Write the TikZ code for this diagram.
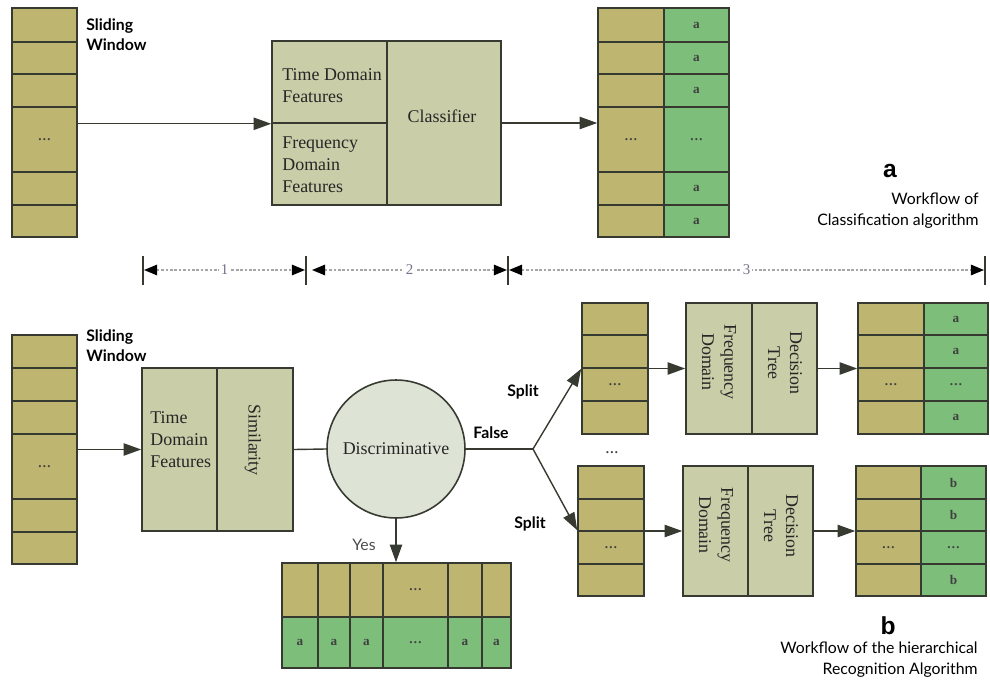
\documentclass[tikz,border=0pt]{standalone}
\usepackage{fontspec}
\setmainfont{Liberation Serif}
\newfontfamily\labfont{Lato}
\newfontfamily\bigfont{Liberation Sans}
\usetikzlibrary{arrows.meta,fit,calc}

\definecolor{khaki}{RGB}{190,182,112}
\definecolor{leaf}{RGB}{124,190,122}
\definecolor{sage}{RGB}{201,206,168}
\definecolor{mist}{RGB}{221,228,214}
\definecolor{edge}{RGB}{55,58,48}

\tikzset{
  cellbox/.style={draw=edge, line width=0.9pt, inner sep=0pt},
  kcell/.style={cellbox, fill=khaki},
  gcell/.style={cellbox, fill=leaf},
  procbox/.style={cellbox, fill=sage},
  body/.style={font=\fontsize{10.2}{12.6}\selectfont, text=black!85, align=left, inner sep=0pt},
  celltxt/.style={font=\bfseries\fontsize{7.5}{9}\selectfont, text=black!75, inner sep=0pt},
  tag/.style={font=\labfont\bfseries\fontsize{9}{11.4}\selectfont, align=left, inner sep=0pt},
  caption/.style={font=\labfont\fontsize{9}{12}\selectfont, align=right, inner sep=0pt},
  panel/.style={font=\bigfont\bfseries\fontsize{14}{16}\selectfont, inner sep=0pt},
  flow/.style={draw=edge, line width=0.8pt, -{Triangle[length=10pt,width=7pt]}},
  plain/.style={draw=edge, line width=0.8pt},
  tickline/.style={draw=edge, line width=0.8pt},
  dimline/.style={draw=gray!70, line width=0.8pt, dash pattern=on 1.5pt off 1pt,
    {Triangle[length=7.5pt,width=6pt,color=black]}-{Triangle[length=7.5pt,width=6pt,color=black]}},
  dimlabel/.style={font=\fontsize{8.5}{10}\selectfont, text=gray!90!blue, fill=white, inner sep=1pt},
}

% cell node spanning the rectangle (x1,y1)-(x2,y2), in pixel-like units
\newcommand\cellat[6]{\node[#6, fit={(#2,#3) (#4,#5)}] (#1) {};}
\newcommand\ellip{\ldots}

\begin{document}
\begin{tikzpicture}[x=0.02cm, y=-0.02cm]
\useasboundingbox (0,0) rectangle (990,689);

% ---------------- panel a ----------------
\foreach \n/\a/\b in {1/8/42, 2/42/74, 3/74/107, 4/107/172, 5/172/205, 6/205/237} {
  \cellat{tw\n}{12}{\a}{77}{\b}{kcell}
  \cellat{tr\n}{598}{\a}{664}{\b}{kcell}
  \cellat{trg\n}{664}{\a}{729}{\b}{gcell}
}
\node[celltxt] at (tw4) {\ellip};
\node[celltxt] at (tr4) {\ellip};
\node[celltxt] at (trg4) {\ellip};
\foreach \n in {1,2,3,5,6} { \node[celltxt] at (trg\n) {a}; }

\node[tag, anchor=west] (swa) at (86,35) {Sliding\\Window};

\cellat{fAt}{272}{41}{387}{123}{procbox}
\cellat{fAf}{272}{123}{387}{205}{procbox}
\cellat{fAc}{387}{41}{501}{205}{procbox}
\node[body, anchor=west] (fAtt) at (282,86) {Time Domain\\Features};
\node[body, anchor=west] (fAft) at (282,165) {Frequency\\Domain\\Features};
\node[body] (fAct) at (442,116) {Classifier};

\draw[flow] (fAt.south west -| tw4.east) -- (fAt.south west);
\draw[flow] (fAc.east) -- (fAc.east -| tr4.west);

\node[panel] (pa) at (890,171) {a};
\node[caption, anchor=east] (capa) at (979,211) {Workflow of\\Classification algorithm};

% ---------------- stage ruler ----------------
\coordinate (d0) at (143,270);
\coordinate (d1) at (306,270);
\coordinate (d2) at (508,270);
\coordinate (d3) at (985,270);
\foreach \d in {d0,d1,d2,d3} { \draw[tickline] (\d) ++(0,-14) -- ++(0,29); }
\draw[dimline] ($(d0)+(1,0)$) -- node[dimlabel] {1} ($(d1)+(-1,0)$);
\draw[dimline] ($(d1)+(6,0)$) -- node[dimlabel] {2} ($(d2)+(-1,0)$);
\draw[dimline] ($(d2)+(1,0)$) -- node[dimlabel] {3} ($(d3)+(-1,0)$);

% ---------------- panel b ----------------
\foreach \n/\a/\b in {1/335/368, 2/368/401, 3/401/434, 4/434/499, 5/499/532, 6/532/564} {
  \cellat{bw\n}{12}{\a}{77}{\b}{kcell}
}
\node[celltxt] at (bw4) {\ellip};
\node[tag, anchor=west] (swb) at (86,346) {Sliding\\Window};

\cellat{fBt}{142}{368}{217}{531}{procbox}
\cellat{fBs}{217}{368}{293}{531}{procbox}
\node[body, anchor=west] (fBtt) at (150,440) {Time\\Domain\\Features};
\node[body, rotate=-90] (fBst) at (253,440) {Similarity};

\draw[flow] (fBt.west -| bw4.east) -- (fBt.west);

\node[circle, draw=edge, line width=0.9pt, fill=mist, minimum size=2.76cm, inner sep=0pt,
      font=\fontsize{10.2}{12}\selectfont, text=black!85] (disc) at (396,449) {Discriminative};
\draw[plain] (fBs.east) -- (disc.west);
\coordinate (fork) at (533,449);
\draw[plain] (disc.east) -- (fork);
\node[tag] (false) at (491,433) {False};

% upper branch
\foreach \n/\a/\b in {1/303/335, 2/335/368, 3/368/401, 4/401/434} {
  \cellat{us\n}{582}{\a}{648}{\b}{kcell}
  \cellat{ur\n}{858}{\a}{924}{\b}{kcell}
  \cellat{urg\n}{924}{\a}{988}{\b}{gcell}
}
\node[celltxt] at (us3) {\ellip};
\node[celltxt] at (ur3) {\ellip};
\node[celltxt] at (urg3) {\ellip};
\foreach \n in {1,2,4} { \node[celltxt] at (urg\n) {a}; }

\cellat{ufa}{686}{303}{752}{434}{procbox}
\cellat{ufb}{752}{303}{817}{434}{procbox}
\node[body, rotate=-90, align=center] (ufat) at (719,362) {Frequency\\Domain};
\node[body, rotate=-90, align=center] (ufbt) at (785,363) {Decision\\Tree};

\draw[flow] (fork) -- (us2.south west);
\node[tag] (split1) at (523,392) {Split};
\draw[flow] (ufa.west -| us2.east) -- (ufa.west);
\draw[flow] (ufb.east) -- (ufb.east -| ur1.west);

\node[celltxt] (gap) at (612,453) {\ellip};

% lower branch
\foreach \n/\a/\b in {1/466/499, 2/499/531, 3/531/564, 4/564/596} {
  \cellat{ls\n}{578}{\a}{644}{\b}{kcell}
  \cellat{lr\n}{856}{\a}{921}{\b}{kcell}
  \cellat{lrg\n}{921}{\a}{986}{\b}{gcell}
}
\node[celltxt] at (ls3) {\ellip};
\node[celltxt] at (lr3) {\ellip};
\node[celltxt] at (lrg3) {\ellip};
\foreach \n in {1,2,4} { \node[celltxt] at (lrg\n) {b}; }

\cellat{lfa}{683}{466}{748}{596}{procbox}
\cellat{lfb}{748}{466}{813}{596}{procbox}
\node[body, rotate=-90, align=center] (lfat) at (716,525) {Frequency\\Domain};
\node[body, rotate=-90, align=center] (lfbt) at (781,526) {Decision\\Tree};

\draw[flow] (fork) -- (ls3.north west);
\node[tag] (split2) at (530,524) {Split};
\draw[flow] (lfa.west -| ls3.east) -- (lfa.west);
\draw[flow] (lfb.east) -- (lfb.east -| lr1.west);

% "Yes" result strip
\foreach \n/\a/\b in {1/282/318, 2/318/350, 3/350/383, 4/383/448, 5/448/482, 6/482/511} {
  \cellat{yt\n}{\a}{563}{\b}{617}{kcell}
  \cellat{yb\n}{\a}{617}{\b}{668}{gcell}
}
\node[celltxt] at (yt4) {\ellip};
\node[celltxt] at (yb4) {\ellip};
\foreach \n in {1,2,3,5,6} { \node[celltxt] at (yb\n) {a}; }

\draw[flow] (disc.south) -- (disc.south |- yt4.north);
\node[tag, font=\fontsize{9}{11}\selectfont\labfont, text=black!70] (yes) at (364,545) {Yes};

\node[panel] (pb) at (888,626) {b};
\node[caption, anchor=east] (capb) at (978,660) {Workflow of the hierarchical\\Recognition Algorithm};
\end{tikzpicture}
\end{document}
